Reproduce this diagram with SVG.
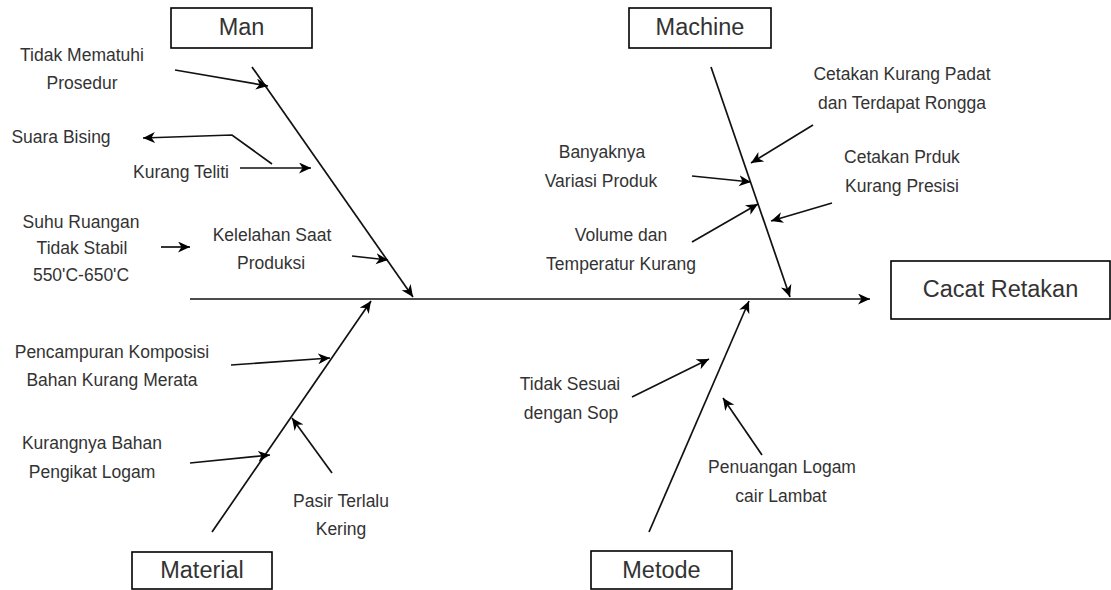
<svg xmlns="http://www.w3.org/2000/svg" width="1111" height="590" viewBox="0 0 1111 590">
<defs>
<marker id="arr" markerUnits="userSpaceOnUse" markerWidth="14" markerHeight="12" refX="12" refY="5.5" orient="auto"><path d="M0,0 L12,5.5 L0,11 L3.5,5.5 Z" fill="#000"/></marker>
</defs>
<style>
.box{fill:#fff;stroke:#000;stroke-width:1.6}
.lbl{font-family:"Liberation Sans",Arial,sans-serif;font-size:23.5px;fill:#333;text-anchor:middle}
.t{font-family:"Liberation Sans",Arial,sans-serif;font-size:17.5px;fill:#333;text-anchor:middle}
.ln{stroke:#111;stroke-width:1.7;fill:none;marker-end:url(#arr)}
</style>
<rect x="0" y="0" width="1111" height="590" fill="#fff"/>
<g id="connectors">
<line class="ln" x1="190" y1="299" x2="870" y2="299"/>
<line class="ln" x1="252" y1="67" x2="413" y2="297"/>
<line class="ln" x1="711" y1="67" x2="790" y2="297"/>
<line class="ln" x1="212" y1="532" x2="371" y2="301"/>
<line class="ln" x1="649" y1="532" x2="749" y2="301"/>
<line class="ln" x1="175" y1="70" x2="268" y2="86"/>
<polyline class="ln" points="272,164 232,135 143,138"/>
<line class="ln" x1="240" y1="168" x2="311" y2="168"/>
<line class="ln" x1="161" y1="247" x2="190" y2="247"/>
<line class="ln" x1="352" y1="256" x2="388" y2="260"/>
<line class="ln" x1="813" y1="125" x2="751" y2="163"/>
<line class="ln" x1="692" y1="176" x2="751" y2="182"/>
<line class="ln" x1="692" y1="242" x2="758" y2="204"/>
<line class="ln" x1="832" y1="203" x2="771" y2="221"/>
<line class="ln" x1="231" y1="365" x2="330" y2="358"/>
<line class="ln" x1="190" y1="463" x2="270" y2="455"/>
<line class="ln" x1="332" y1="473" x2="292" y2="418"/>
<line class="ln" x1="632" y1="397" x2="709" y2="359"/>
<line class="ln" x1="762" y1="455" x2="723" y2="398"/>
</g>
<g id="man">
<rect class="box" x="171" y="8" width="141" height="40"/>
<text class="lbl" x="241.5" y="35">Man</text>
</g>
<g id="machine">
<rect class="box" x="629" y="8" width="142" height="40"/>
<text class="lbl" x="700" y="35">Machine</text>
</g>
<g id="cacat-retakan">
<rect class="box" x="891" y="261" width="219" height="58"/>
<text class="lbl" x="1000.5" y="297">Cacat Retakan</text>
</g>
<g id="material">
<rect class="box" x="132" y="552" width="140" height="37"/>
<text class="lbl" x="202" y="578">Material</text>
</g>
<g id="metode">
<rect class="box" x="591" y="551" width="141" height="38"/>
<text class="lbl" x="661.5" y="578">Metode</text>
</g>
<g id="man-causes">
<text class="t" x="82" y="61">Tidak Mematuhi</text>
<text class="t" x="82" y="89">Prosedur</text>
<text class="t" x="61" y="143">Suara Bising</text>
<text class="t" x="181" y="178">Kurang Teliti</text>
<text class="t" x="81" y="228">Suhu Ruangan</text>
<text class="t" x="82" y="254">Tidak Stabil</text>
<text class="t" x="81" y="281">550'C-650'C</text>
<text class="t" x="272" y="241">Kelelahan Saat</text>
<text class="t" x="271" y="269">Produksi</text>
</g>
<g id="machine-causes">
<text class="t" x="902" y="80">Cetakan Kurang Padat</text>
<text class="t" x="902" y="109">dan Terdapat Rongga</text>
<text class="t" x="902" y="163">Cetakan Prduk</text>
<text class="t" x="902" y="192">Kurang Presisi</text>
<text class="t" x="602" y="158">Banyaknya</text>
<text class="t" x="601" y="187">Variasi Produk</text>
<text class="t" x="621" y="241">Volume dan</text>
<text class="t" x="621" y="270">Temperatur Kurang</text>
</g>
<g id="material-causes">
<text class="t" x="112" y="358">Pencampuran Komposisi</text>
<text class="t" x="112" y="386">Bahan Kurang Merata</text>
<text class="t" x="92" y="449">Kurangnya Bahan</text>
<text class="t" x="92" y="478">Pengikat Logam</text>
<text class="t" x="341" y="507">Pasir Terlalu</text>
<text class="t" x="341" y="535">Kering</text>
</g>
<g id="metode-causes">
<text class="t" x="570" y="390">Tidak Sesuai</text>
<text class="t" x="571" y="419">dengan Sop</text>
<text class="t" x="782" y="473">Penuangan Logam</text>
<text class="t" x="781" y="502">cair Lambat</text>
</g>
</svg>
